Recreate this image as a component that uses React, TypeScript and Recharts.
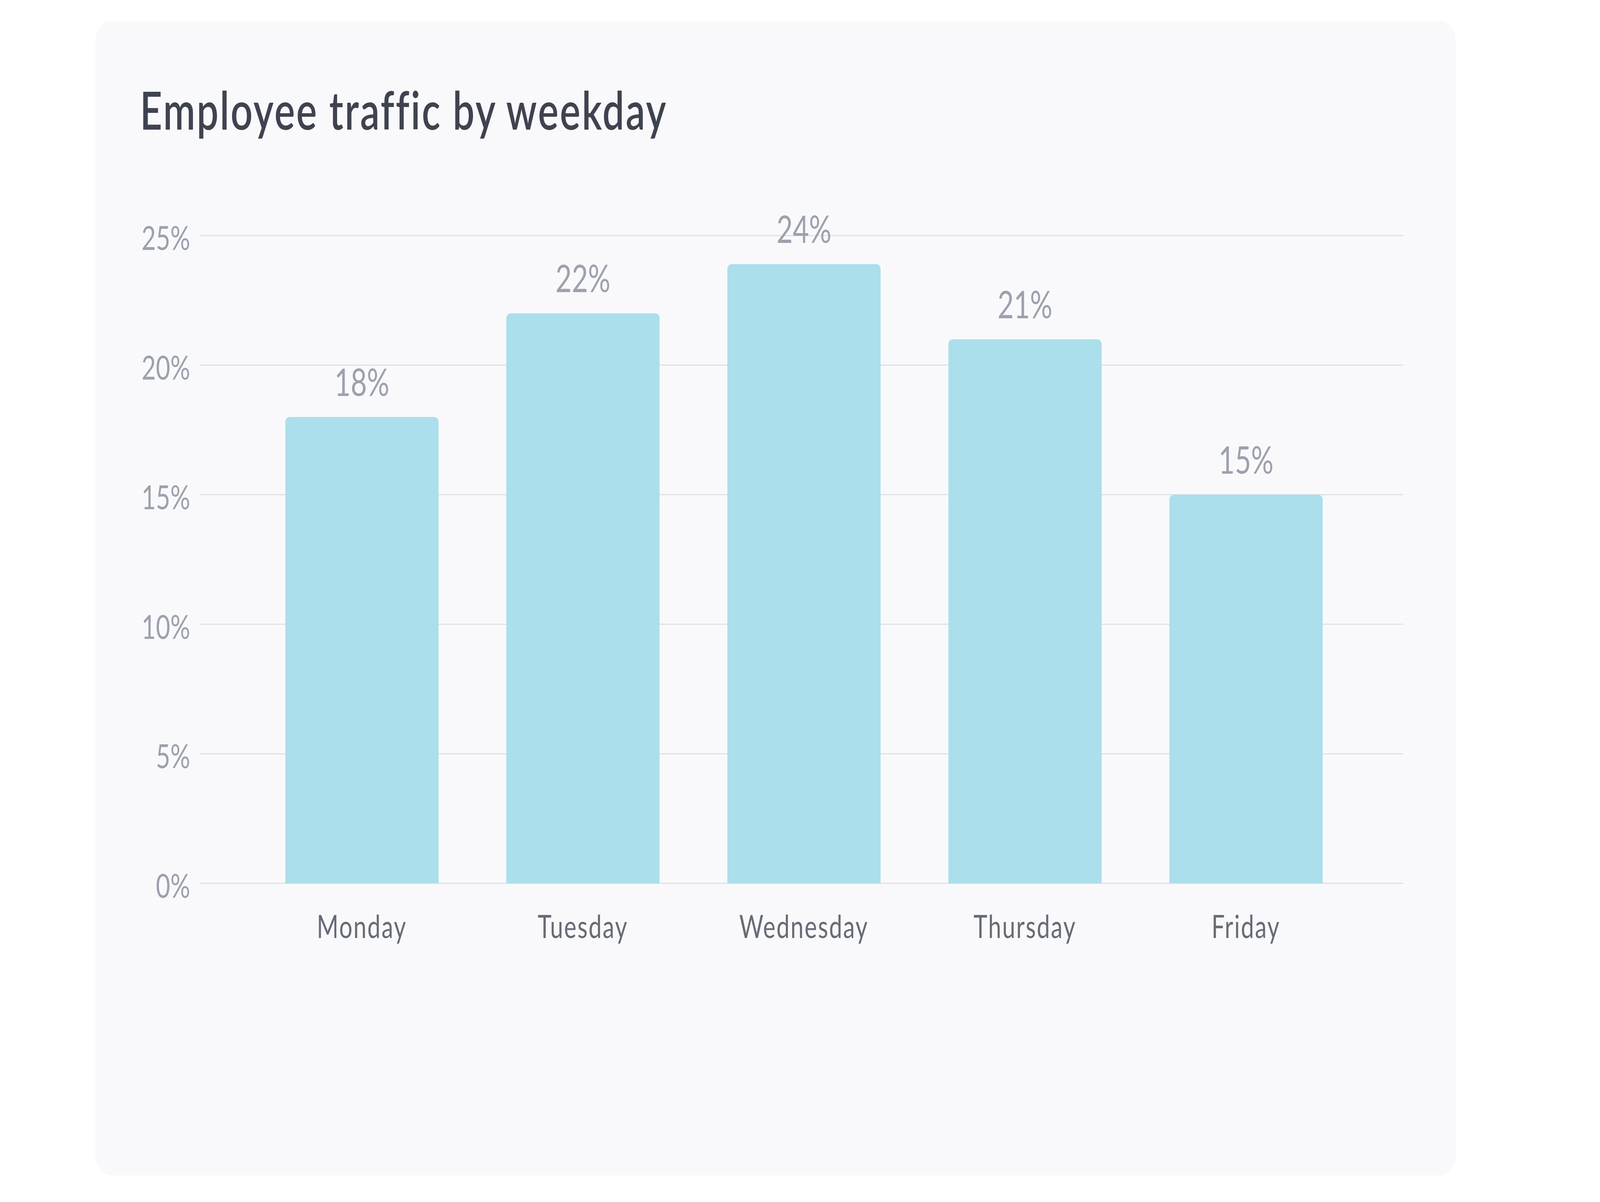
import React from "react";
import { BarChart, Bar, XAxis, YAxis, CartesianGrid, LabelList } from "recharts";

const days = ["Monday", "Tuesday", "Wednesday", "Thursday", "Friday"];
const traffic = [18, 22, 23.9, 21, 15];
const yTicks = [0, 5, 10, 15, 20, 25];
const title = "Employee traffic by weekday";

const data = days.map((d, i) => ({ day: d, value: traffic[i] }));

const FONT = "Lato, 'Noto Sans', sans-serif";

// design size of the reference; the page may be narrower, so x is scaled to fit
const DESIGN_W = 5545;
const H = 3078;
const W = Math.min(typeof window !== "undefined" && window.innerWidth ? window.innerWidth : DESIGN_W, DESIGN_W);
const sx = W / DESIGN_W;

const tf = (x: number, y: number) => `translate(${x},${y}) scale(${sx},1)`;

const YTick = (props: any) => {
  const { x, y, payload } = props;
  return (
    <text transform={tf(x, y + 37)} textAnchor="end" fontFamily={FONT} fontSize={86} fill="#9ca1ad">
      {`${payload.value}%`}
    </text>
  );
};

const XTick = (props: any) => {
  const { x, y, payload } = props;
  return (
    <text transform={tf(x, y + 140)} textAnchor="middle" fontFamily={FONT} fontSize={81} letterSpacing={3.5} fill="#676b76">
      {payload.value}
    </text>
  );
};

const ValueLabel = (props: any) => {
  const { x, y, width, value } = props;
  return (
    <text transform={tf(x + width / 2, y - 54)} textAnchor="middle" fontFamily={FONT} fontSize={97} fill="#9ca1ad">
      {`${Math.round(value)}%`}
    </text>
  );
};

export default function App() {
  const plotLeft = 693 * sx;
  const plotRight = 4863 * sx;
  return (
    <div style={{ position: "absolute", left: 0, top: 0, width: W, height: H, background: "#ffffff", overflow: "hidden" }}>
      <div
        style={{
          position: "absolute",
          left: 330 * sx,
          top: 54,
          width: 4715 * sx,
          height: 2956,
          borderRadius: `${54 * sx}px / 54px`,
          background: "#f9f9fb",
        }}
      />
      <svg style={{ position: "absolute", left: 0, top: 0 }} width={W} height={420}>
        <text transform={tf((491 - 6) * sx, 332)} fontFamily={FONT} fontSize={134} fontWeight={600} letterSpacing={4.8} fill="#3f4350">
          {title}
        </text>
      </svg>
      <div style={{ position: "absolute", left: 0, top: 0 }}>
        <BarChart
          width={W}
          height={H}
          data={data}
          margin={{ top: 603.3, right: W - plotRight, bottom: 408, left: 0 }}
        >
          <CartesianGrid vertical={false} stroke="#dcdce3" strokeWidth={2.5} />
          <XAxis
            dataKey="day"
            axisLine={false}
            tickLine={false}
            tickSize={0}
            tickMargin={0}
            padding={{ left: 178 * sx, right: 162 * sx }}
            tick={<XTick />}
            interval={0}
            height={408}
          />
          <YAxis
            domain={[0, 25]}
            ticks={yTicks}
            axisLine={false}
            tickLine={false}
            tickSize={0}
            tickMargin={34 * sx}
            width={plotLeft}
            tick={<YTick />}
            interval={0}
          />
          <Bar dataKey="value" fill="#abdfeb" barSize={531 * sx} radius={[12, 12, 0, 0]} isAnimationActive={false}>
            <LabelList dataKey="value" content={<ValueLabel />} />
          </Bar>
        </BarChart>
      </div>
    </div>
  );
}
